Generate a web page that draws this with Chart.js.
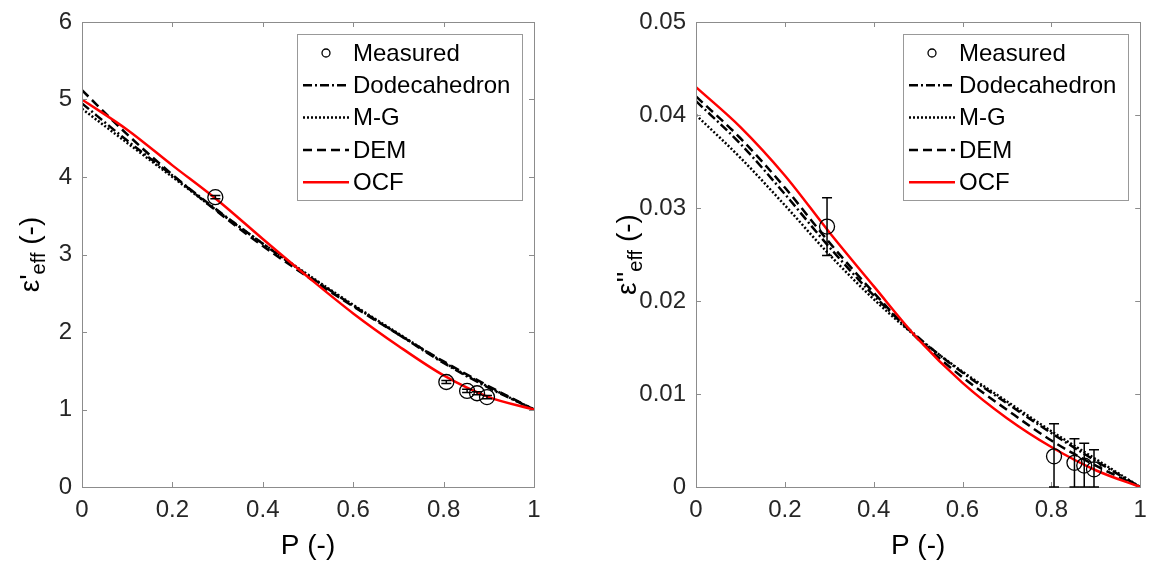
<!DOCTYPE html>
<html>
<head>
<meta charset="utf-8">
<script src="https://cdn.jsdelivr.net/npm/chart.js@4.4.1/dist/chart.umd.min.js"></script>
<style>
  html, body { margin: 0; padding: 0; background: #fff; overflow: hidden; }
  .box { position: absolute; top: 0; height: 563px; }
  #leftBox { left: 0; width: 560px; }
  #rightBox { left: 600px; width: 549px; }
</style>
</head>
<body>
<div id="leftBox" class="box"><canvas id="cLeft"></canvas></div>
<div id="rightBox" class="box"><canvas id="cRight"></canvas></div>
<script>
// ---------------- data ----------------
const porosity = [0, 0.1, 0.2, 0.3, 0.4, 0.5, 0.6, 0.7, 0.8, 0.9, 1.0];
const xTicks = [0, 0.2, 0.4, 0.6, 0.8, 1];
const seriesNames = ['Measured', 'Dodecahedron', 'M-G', 'DEM', 'OCF'];

// real part eps'_eff
const realDodeca = [4.95, 4.47, 4.02, 3.57, 3.14, 2.73, 2.34, 1.97, 1.60, 1.28, 1.0];
const realMG     = [4.88, 4.44, 4.00, 3.56, 3.14, 2.74, 2.35, 1.98, 1.61, 1.29, 1.0];
const realDEM    = [5.12, 4.55, 4.03, 3.55, 3.11, 2.71, 2.33, 1.97, 1.62, 1.30, 1.0];
const realOCF    = [5.00, 4.61, 4.15, 3.70, 3.20, 2.71, 2.24, 1.82, 1.44, 1.16, 1.0];

// imaginary part eps''_eff
const imagDodeca = [0.0415, 0.0369, 0.0315, 0.0258, 0.0206, 0.0161, 0.0123, 0.0090, 0.0058, 0.0028, 0.0];
const imagMG     = [0.0400, 0.0354, 0.0303, 0.0250, 0.0202, 0.0160, 0.0124, 0.0092, 0.0060, 0.0030, 0.0];
const imagDEM    = [0.0420, 0.0375, 0.0322, 0.0263, 0.0209, 0.0159, 0.0118, 0.0083, 0.0050, 0.0023, 0.0];
const imagOCF    = [0.0430, 0.0387, 0.0335, 0.0274, 0.0216, 0.0159, 0.0112, 0.0074, 0.0043, 0.0018, 0.0];

// measurements
const measP       = [0.295, 0.806, 0.852, 0.874, 0.896];
const measReal    = [3.74, 1.355, 1.24, 1.21, 1.16];
const measRealErr = [0.02, 0.02, 0.02, 0.02, 0.02];
const measImag    = [0.0280, 0.0033, 0.0026, 0.0023, 0.0019];
const measImagErr = [0.0031, 0.0035, 0.0026, 0.0024, 0.0021];

const yTicksLeft = [0, 1, 2, 3, 4, 5, 6];
const yTicksRight = [0, 0.01, 0.02, 0.03, 0.04, 0.05];

// ---------------- helpers ----------------
const FONT = '"Liberation Sans", Arial, sans-serif';
Chart.defaults.font.family = FONT;
Chart.defaults.color = '#262626';
const AXIS_GRAY = '#8c8c8c';

function pts(xs, ys) { return xs.map((x, i) => ({ x: x, y: ys[i] })); }

function lineDs(label, ys, color, dash, width, order) {
  return {
    label: label, data: pts(porosity, ys), borderColor: color, backgroundColor: color,
    borderDash: dash, borderWidth: width, pointRadius: 0, fill: false,
    cubicInterpolationMode: 'monotone', order: order
  };
}

function buildDatasets(meas, err, dod, mg, dem, ocf) {
  return [
    { label: seriesNames[0], data: pts(measP, meas), errors: err, showLine: false,
      pointStyle: 'circle', pointRadius: 7.5, pointBorderWidth: 1.3, pointBorderColor: '#000',
      pointBackgroundColor: 'rgba(0,0,0,0)', borderColor: '#000', order: 0, isMarker: true },
    lineDs(seriesNames[1], dod, '#000', [9, 3, 2, 3], 2.5, 4),
    lineDs(seriesNames[2], mg, '#000', [2, 2], 2.5, 3),
    lineDs(seriesNames[3], dem, '#000', [9, 5], 2.5, 2),
    lineDs(seriesNames[4], ocf, '#ff0000', [], 2.5, 1)
  ];
}

const framePlugin = {
  id: 'frame',
  afterDatasetsDraw(chart) {
    const ctx = chart.ctx, ca = chart.chartArea;
    const xs = chart.scales.x, ys = chart.scales.y;
    ctx.save();
    ctx.strokeStyle = AXIS_GRAY; ctx.lineWidth = 1;
    ctx.strokeRect(Math.round(ca.left) + 0.5, Math.round(ca.top) + 0.5,
                   Math.round(ca.right - ca.left), Math.round(ca.bottom - ca.top));
    const L = 5;
    ctx.beginPath();
    xs.ticks.forEach(t => {
      const px = Math.round(xs.getPixelForValue(t.value)) + 0.5;
      ctx.moveTo(px, ca.bottom); ctx.lineTo(px, ca.bottom - L);
      ctx.moveTo(px, ca.top); ctx.lineTo(px, ca.top + L);
    });
    ys.ticks.forEach(t => {
      const py = Math.round(ys.getPixelForValue(t.value)) + 0.5;
      ctx.moveTo(ca.left, py); ctx.lineTo(ca.left + L, py);
      ctx.moveTo(ca.right, py); ctx.lineTo(ca.right - L, py);
    });
    ctx.stroke();
    // error bars
    chart.data.datasets.forEach(ds => {
      if (!ds.errors) return;
      ctx.strokeStyle = '#000'; ctx.lineWidth = 1.5;
      ds.data.forEach((p, i) => {
        const e = ds.errors[i];
        const px = xs.getPixelForValue(p.x);
        let top = ys.getPixelForValue(p.y + e);
        let bot = ys.getPixelForValue(p.y - e);
        bot = Math.min(bot, ca.bottom); top = Math.max(top, ca.top);
        ctx.beginPath();
        ctx.moveTo(px, top); ctx.lineTo(px, bot);
        ctx.moveTo(px - 5, top); ctx.lineTo(px + 5, top);
        ctx.moveTo(px - 5, bot); ctx.lineTo(px + 5, bot);
        ctx.stroke();
      });
    });
    ctx.restore();
  }
};

const legendPlugin = {
  id: 'boxLegend',
  afterDraw(chart) {
    const ctx = chart.ctx, ca = chart.chartArea;
    const w = 225, h = 166;
    const x0 = Math.round(ca.right - 12 - w), y0 = Math.round(ca.top + 12);
    ctx.save();
    ctx.fillStyle = '#fff';
    ctx.fillRect(x0, y0, w, h);
    ctx.strokeStyle = '#999'; ctx.lineWidth = 1;
    ctx.strokeRect(x0 + 0.5, y0 + 0.5, w, h);
    ctx.font = '24px ' + FONT;
    ctx.textBaseline = 'middle';
    chart.data.datasets.forEach((ds, i) => {
      const cy = y0 + 19 + i * 32.3;
      if (ds.isMarker) {
        ctx.strokeStyle = '#000'; ctx.lineWidth = 1.3;
        ctx.beginPath(); ctx.arc(x0 + 29, cy, 4, 0, Math.PI * 2); ctx.stroke();
      } else {
        ctx.strokeStyle = ds.borderColor; ctx.lineWidth = ds.borderWidth;
        ctx.setLineDash(ds.borderDash || []);
        ctx.beginPath(); ctx.moveTo(x0 + 6, cy); ctx.lineTo(x0 + 52, cy); ctx.stroke();
        ctx.setLineDash([]);
      }
      ctx.fillStyle = '#000';
      ctx.fillText(ds.label, x0 + 56, cy + 1);
    });
    ctx.restore();
  }
};

const yTitlePlugin = {
  id: 'yTitle',
  afterDraw(chart, args, opts) {
    const ctx = chart.ctx, ca = chart.chartArea;
    const fBig = '28px ' + FONT, fSub = '20px ' + FONT;
    ctx.save();
    ctx.font = fBig; const w1 = ctx.measureText(opts.main).width; const w3 = ctx.measureText(opts.tail).width;
    ctx.font = fSub; const w2 = ctx.measureText(opts.sub).width;
    const total = w1 + w2 + w3;
    ctx.translate(opts.x, (ca.top + ca.bottom) / 2);
    ctx.rotate(-Math.PI / 2);
    ctx.textBaseline = 'middle'; ctx.fillStyle = '#000';
    let x = -total / 2;
    ctx.font = fBig; ctx.fillText(opts.main, x, 0); x += w1;
    ctx.font = fSub; ctx.fillText(opts.sub, x, 8); x += w2;
    ctx.font = fBig; ctx.fillText(opts.tail, x, 0);
    ctx.restore();
  }
};

function makeChart(canvasId, datasets, yMin, yMax, yTickVals, yFmt, yAxisWidth, rightPad, title) {
  return new Chart(document.getElementById(canvasId), {
    type: 'line',
    data: { datasets: datasets },
    options: {
      responsive: true, maintainAspectRatio: false, animation: false,
      layout: { padding: { top: 22, right: rightPad, left: 0, bottom: 0 } },
      plugins: { legend: { display: false }, tooltip: { enabled: false }, yTitle: title },
      scales: {
        x: {
          type: 'linear', min: 0, max: 1,
          afterBuildTicks: (ax) => { ax.ticks = xTicks.map(v => ({ value: v })); },
          ticks: { font: { size: 24 }, color: '#262626', padding: 9, maxRotation: 0,
                   callback: (v) => (v === 0 ? '0' : v === 1 ? '1' : Number(v).toFixed(1)) },
          grid: { display: false, drawTicks: false },
          border: { display: false },
          title: { display: true, text: 'P (-)', color: '#000', font: { size: 28 }, padding: { top: 0, bottom: 0 } },
          afterFit: (ax) => { ax.height = 76; ax.paddingLeft = 0; ax.paddingRight = 0; }
        },
        y: {
          type: 'linear', min: yMin, max: yMax,
          afterBuildTicks: (ax) => { ax.ticks = yTickVals.map(v => ({ value: v })); },
          ticks: { font: { size: 24 }, color: '#262626', padding: 10, callback: yFmt },
          grid: { display: false, drawTicks: false },
          border: { display: false },
          afterFit: (ax) => { ax.width = yAxisWidth; ax.paddingTop = 0; ax.paddingBottom = 0; }
        }
      }
    },
    plugins: [framePlugin, legendPlugin, yTitlePlugin]
  });
}

makeChart('cLeft',
  buildDatasets(measReal, measRealErr, realDodeca, realMG, realDEM, realOCF),
  0, 6, yTicksLeft, (v) => String(v), 82, 26,
  { main: 'ε\'', sub: 'eff', tail: ' (-)', x: 31 });

makeChart('cRight',
  buildDatasets(measImag, measImagErr, imagDodeca, imagMG, imagDEM, imagOCF),
  0, 0.05, yTicksRight, (v) => (v === 0 ? '0' : Number(v).toFixed(2)), 96, 5,
  { main: 'ε\'\'', sub: 'eff', tail: ' (-)', x: 28 });
</script>
</body>
</html>
